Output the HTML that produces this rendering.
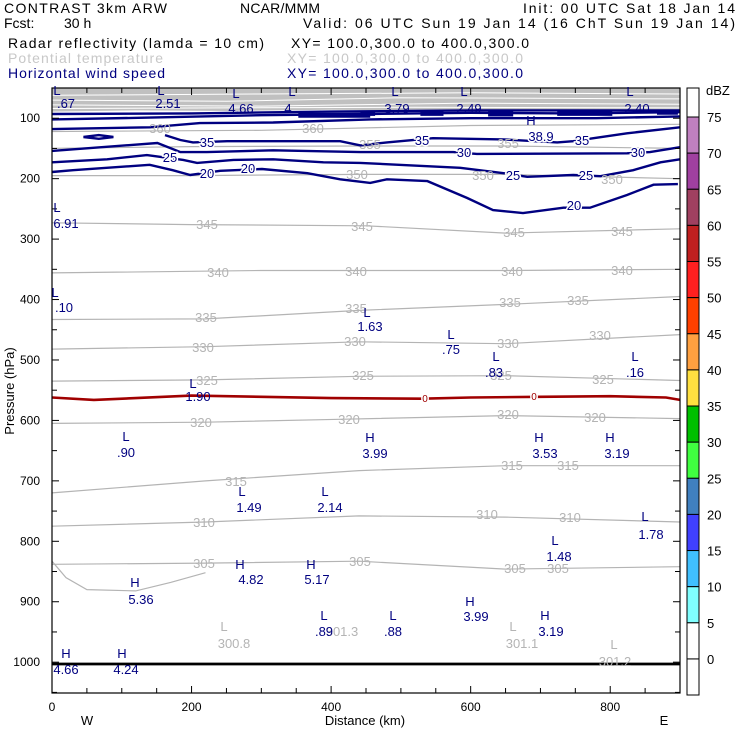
<!DOCTYPE html>
<html><head><meta charset="utf-8"><style>
html,body{margin:0;padding:0;background:#fff}
svg{display:block;font-family:"Liberation Sans",sans-serif}
.hd{font-size:14px}
.lb{font-size:13px}
.gl{fill:#b4b4b4}
.nl{fill:#000080}
.cl{paint-order:stroke;stroke:#fff;stroke-width:3px}
</style></head><body>
<svg id="chart" width="740" height="740" viewBox="0 0 740 740">
<g>
<text class="hd" x="4" y="13" textLength="163">CONTRAST  3km ARW</text>
<text class="hd" x="240" y="13" textLength="80">NCAR/MMM</text>
<text class="hd" x="523" y="13" textLength="212">Init: 00 UTC Sat 18 Jan 14</text>
<text class="hd" x="4" y="28">Fcst:</text>
<text class="hd" x="64" y="28">30 h</text>
<text class="hd" x="303" y="28" textLength="432">Valid: 06 UTC Sun 19 Jan 14 (16 ChT Sun 19 Jan 14)</text>
<text class="hd" x="8" y="48" textLength="256">Radar reflectivity (lamda = 10 cm)</text>
<text class="hd" x="291" y="48" textLength="238">XY= 100.0,300.0 to 400.0,300.0</text>
<text class="hd" x="8" y="63" textLength="155" fill="#c8c8c8">Potential temperature</text>
<text class="hd" x="287" y="63" textLength="236" fill="#c8c8c8">XY= 100.0,300.0 to 400.0,300.0</text>
<text class="hd" x="8" y="78" textLength="157" fill="#000080">Horizontal wind speed</text>
<text class="hd" x="287" y="78" textLength="236" fill="#000080">XY= 100.0,300.0 to 400.0,300.0</text>
</g>
<g id="plot"></g>
<g id="axes"></g>
<g id="labels"></g>
<g id="cbar"></g>
</svg>
<script>
const kmRange = [0, 900];
const pRange = [50, 1051];
const xTickKm = [0,50,100,150,200,250,300,350,400,450,500,550,600,650,700,750,800,850,900];
const xLabelKm = [0,200,400,600,800];
const pTicks = [100,150,200,250,300,350,400,450,500,550,600,650,700,750,800,850,900,950,1000,1050];
const pLabels = [100,200,300,400,500,600,700,800,900,1000];
const cbLevels = ["75","70","65","60","55","50","45","40","35","30","25","20","15","10","5","0"];
const cbColors = ["#ffffff","#c080c0","#a040a0","#a04060","#c02020","#ff2020","#ff4000","#ffa040","#ffe040","#00c000","#40ff40","#4080c0","#4040ff","#40c0ff","#80ffff","#ffffff","#ffffff"];
const grayTop = [[0,89],[120,87],[250,88],[400,86],[550,87],[700,86],[900,88]];
const grayInner = [[[0,62],[300,60],[600,58],[900,60]],[[0,70],[250,72],[500,66],[900,68]],[[0,78],[300,80],[600,75],[900,77]],[[0,84],[250,83],[500,82],[900,83]]];
const theta360 = [[0,122],[300,120],[600,112],[900,110]];
const theta355 = [[0,150],[200,147],[440,146],[650,146],[900,150]];
const theta350 = [[0,195],[200,195],[440,193],[650,193],[900,200]];
const theta345 = [[0,273],[200,276],[450,278],[650,290],[900,283]];
const theta340 = [[0,356],[300,352],[650,352],[900,350]];
const theta335 = [[0,433],[220,432],[440,418],[650,408],[900,395]];
const theta330 = [[0,482],[220,478],[440,470],[650,473],[900,458]];
const theta325 = [[0,535],[220,533],[440,527],[650,526],[900,534]];
const theta320 = [[0,605],[220,603],[420,598],[650,592],[900,597]];
const theta315 = [[0,720],[220,700],[440,683],[650,675],[900,675]];
const theta310 = [[0,775],[220,768],[440,758],[650,760],[900,768]];
const theta305 = [[0,838],[220,836],[440,833],[650,846],[900,842]];
const theta300 = [[0,833],[20,860],[50,880],[120,882],[170,868],[220,852]];
const wind20 = [[0,189],[30,186],[140,177],[173,186],[198,194],[241,187],[301,184],[366,191],[413,201],[456,207],[480,201],[538,204],[595,232],[632,252],[675,257],[733,248],[771,248],[824,227],[862,210],[897,209]];
const wind25 = [[0,173],[79,168],[136,161],[188,169],[208,174],[260,169],[317,168],[389,173],[442,174],[585,182],[647,191],[681,197],[747,194],[786,196],[833,186],[872,173],[900,168]];
const wind30 = [[0,154],[151,141],[184,156],[222,156],[317,153],[442,156],[575,156],[609,159],[824,158],[857,156],[900,148]];
const wind35 = [[162,128],[184,136],[202,140],[251,138],[413,138],[442,145],[480,140],[546,133],[647,135],[724,140],[747,138],[776,133],[824,125],[900,115]];
const windA = [[0,118],[140,115],[212,108],[317,107],[456,102],[600,100],[780,100],[900,97]];
const windB = [[0,102],[140,99],[300,95],[450,93],[600,91],[750,92],[900,90]];
const windC = [[0,93],[200,92],[400,89],[600,87],[900,87]];
const windThick = [[[353,95],[456,95]],[[442,92],[463,92]],[[528,92],[561,92]],[[625,93],[661,93]],[[724,92],[803,92]],[[867,90],[897,90]]];
const windLoop = [[45,131],[67,128],[88,131],[67,134],[45,131]];
const dbz0 = [[0,562],[60,566],[120,563],[200,559],[300,561],[400,563],[530,564],[600,562],[700,561],[800,560],[880,562],[900,566]];
const ground = [[0,1003],[900,1003]];

const X0=52, X1=680, Y0=88, Y1=693;
function xS(km){return X0+(km-kmRange[0])/(kmRange[1]-kmRange[0])*(X1-X0);}
function yS(p){return Y0+(p-pRange[0])/(pRange[1]-pRange[0])*(Y1-Y0);}
const NS='http://www.w3.org/2000/svg';
const plot=document.getElementById('plot'), axes=document.getElementById('axes'), cbar=document.getElementById('cbar');
function el(tag,attrs,parent){const e=document.createElementNS(NS,tag);for(const k in attrs)e.setAttribute(k,attrs[k]);parent.appendChild(e);return e;}
function pts(a){return a.map(d=>xS(d[0]).toFixed(1)+','+yS(d[1]).toFixed(1)).join(' ');}

let poly=[[0,pRange[0]],[900,pRange[0]]].concat(grayTop.slice().reverse());
const gf=el('polygon',{points:pts(poly),fill:'#c0c0c0'},plot);


grayInner.forEach(l=>{const e=el('polyline',{points:pts(l),fill:'none',stroke:'#fff','stroke-width':1},plot);

});
[theta360,theta355,theta350,theta345,theta340,theta335,theta330,theta325,theta320,theta315,theta310,theta305,theta300].forEach(l=>{
const e=el('polyline',{points:pts(l),fill:'none',stroke:'#b4b4b4','stroke-width':1.2},plot);

});
[wind20,wind25,wind30,wind35,windA,windB,windC,windLoop].forEach(l=>{
const e=el('polyline',{points:pts(l),fill:'none',stroke:'#000080','stroke-width':2.4},plot);

});
windThick.forEach(l=>{const e=el('polyline',{points:pts(l),fill:'none',stroke:'#000080','stroke-width':5},plot);

});
const dz=el('polyline',{points:pts(dbz0),fill:'none',stroke:'#a00000','stroke-width':2.6},plot);


const gr=el('polyline',{points:pts(ground),fill:'none',stroke:'#000','stroke-width':2.8},plot);



const fr=el('rect',{x:X0,y:Y0,width:X1-X0,height:Y1-Y0,fill:'none',stroke:'#000','stroke-width':1.2},axes);


xTickKm.forEach(k=>{const L=xLabelKm.includes(k)?7:5;const x=xS(k);
const t=el('line',{x1:x,x2:x,y1:Y1,y2:Y1-L,stroke:'#000'},axes);


const t2=el('line',{x1:x,x2:x,y1:Y0,y2:Y0+L,stroke:'#000'},axes);

});
xLabelKm.forEach(k=>{const t=el('text',{x:xS(k),y:711,'text-anchor':'middle','font-size':12},axes);t.textContent=k;

});
pTicks.forEach(p=>{const L=pLabels.includes(p)?7:5;const y=yS(p);
const t=el('line',{x1:X0,x2:X0+L,y1:y,y2:y,stroke:'#000'},axes);


const t2=el('line',{x1:X1,x2:X1-L,y1:y,y2:y,stroke:'#000'},axes);

});
pLabels.forEach(p=>{const t=el('text',{x:40,y:yS(p)+4,'text-anchor':'end','font-size':12},axes);t.textContent=p;

});
let t=el('text',{x:365,y:725,'text-anchor':'middle','font-size':13},axes);t.textContent='Distance (km)';


t=el('text',{x:87,y:725,'text-anchor':'middle','font-size':13},axes);t.textContent='W';


t=el('text',{x:664,y:725,'text-anchor':'middle','font-size':13},axes);t.textContent='E';


t=el('text',{x:0,y:0,'text-anchor':'middle','font-size':13,transform:'translate(14,391) rotate(-90)'},axes);t.textContent='Pressure (hPa)';



const CB0=88, CBstep=36.13, CBx=687, CBw=12;
cbColors.forEach((c,i)=>{const y0=i===0?CB0:117+(i-1)*CBstep;const y1=i===0?117:(i===cbColors.length-1?695:117+i*CBstep);
const r=el('rect',{x:CBx,y:y0,width:CBw,height:y1-y0,fill:c,stroke:'#000','stroke-width':1},cbar);

});
cbLevels.forEach((v,i)=>{const tt=el('text',{x:707,y:117+i*CBstep+5,'font-size':13},cbar);tt.textContent=v;

});
t=el('text',{x:706,y:95,'font-size':13},cbar);t.textContent='dBZ';



const labelText = [
[207,229,'345','gl'],[362,231,'345','gl'],[514,237,'345','gl'],[622,236,'345','gl'],
[218,277,'340','gl'],[356,276,'340','gl'],[512,276,'340','gl'],[622,275,'340','gl'],
[206,322,'335','gl'],[356,313,'335','gl'],[510,307,'335','gl'],[578,305,'335','gl'],
[203,352,'330','gl'],[355,346,'330','gl'],[508,348,'330','gl'],[600,340,'330','gl'],
[207,385,'325','gl'],[363,380,'325','gl'],[501,380,'325','gl'],[603,384,'325','gl'],
[201,427,'320','gl'],[349,424,'320','gl'],[508,419,'320','gl'],[595,422,'320','gl'],
[236,486,'315','gl'],[512,470,'315','gl'],[568,470,'315','gl'],
[204,527,'310','gl'],[487,519,'310','gl'],[570,522,'310','gl'],
[204,568,'305','gl'],[360,566,'305','gl'],[515,573,'305','gl'],[558,573,'305','gl'],
[160,133,'360','gl'],[313,133,'360','gl'],[370,149,'355','gl'],[508,148,'355','gl'],
[357,179,'350','gl'],[483,180,'350','gl'],[612,184,'350','gl'],
[224,631,'L','gl'],[234,648,'300.8','gl'],[513,631,'L','gl'],[522,648,'301.1','gl'],[614,649,'L','gl'],[615,666,'301.2','gl'],[342,636,'301.3','gl'],
[207,147,'35','nl cl'],[422,145,'35','nl cl'],[582,145,'35','nl cl'],[464,157,'30','nl cl'],[638,157,'30','nl cl'],
[170,162,'25','nl cl'],[513,180,'25','nl cl'],[586,180,'25','nl cl'],[207,178,'20','nl cl'],[248,173,'20','nl cl'],[574,210,'20','nl cl'],
[57,95,'L','nl'],[66,108,'.67','nl'],[161,95,'L','nl'],[168,108,'2.51','nl'],[236,98,'L','nl'],[241,113,'4.66','nl'],
[292,96,'L','nl'],[288,113,'4','nl'],[395,96,'L','nl'],[397,113,'3.79','nl'],[464,96,'L','nl'],[469,113,'2.49','nl'],
[630,96,'L','nl'],[637,113,'2.40','nl'],[531,125,'H','nl'],[541,141,'38.9','nl cl'],
[57,212,'L','nl'],[66,228,'6.91','nl'],[55,297,'L','nl'],[64,312,'.10','nl'],[367,317,'L','nl'],[370,331,'1.63','nl'],
[451,339,'L','nl'],[451,354,'.75','nl'],[496,361,'L','nl'],[494,377,'.83','nl'],[635,361,'L','nl'],[635,377,'.16','nl'],
[193,388,'L','nl'],[198,401,'1.90','nl'],[126,441,'L','nl'],[126,457,'.90','nl'],[370,442,'H','nl'],[375,458,'3.99','nl'],
[539,442,'H','nl'],[545,458,'3.53','nl'],[610,442,'H','nl'],[617,458,'3.19','nl'],[242,496,'L','nl'],[249,512,'1.49','nl'],
[325,496,'L','nl'],[330,512,'2.14','nl'],[645,521,'L','nl'],[651,539,'1.78','nl'],[555,545,'L','nl'],[559,561,'1.48','nl'],
[240,569,'H','nl'],[251,584,'4.82','nl'],[311,569,'H','nl'],[317,584,'5.17','nl'],[135,587,'H','nl'],[141,604,'5.36','nl'],
[470,606,'H','nl'],[476,621,'3.99','nl'],[545,620,'H','nl'],[551,636,'3.19','nl'],[324,620,'L','nl'],[324,636,'.89','nl'],
[393,620,'L','nl'],[393,636,'.88','nl'],[66,658,'H','nl'],[66,674,'4.66','nl'],[122,658,'H','nl'],[126,674,'4.24','nl']
];
const lg=document.getElementById('labels');
labelText.forEach(d=>{const tt=el('text',{x:d[0],y:d[1],'text-anchor':'middle',class:'lb '+d[3]},lg);tt.textContent=d[2];

});
[[425,402],[534,400]].forEach(d=>{const tt=el('text',{x:d[0],y:d[1],'text-anchor':'middle','font-size':10,fill:'#a00000',class:'cl'},lg);tt.textContent='0';

});
</script>
</body></html>
